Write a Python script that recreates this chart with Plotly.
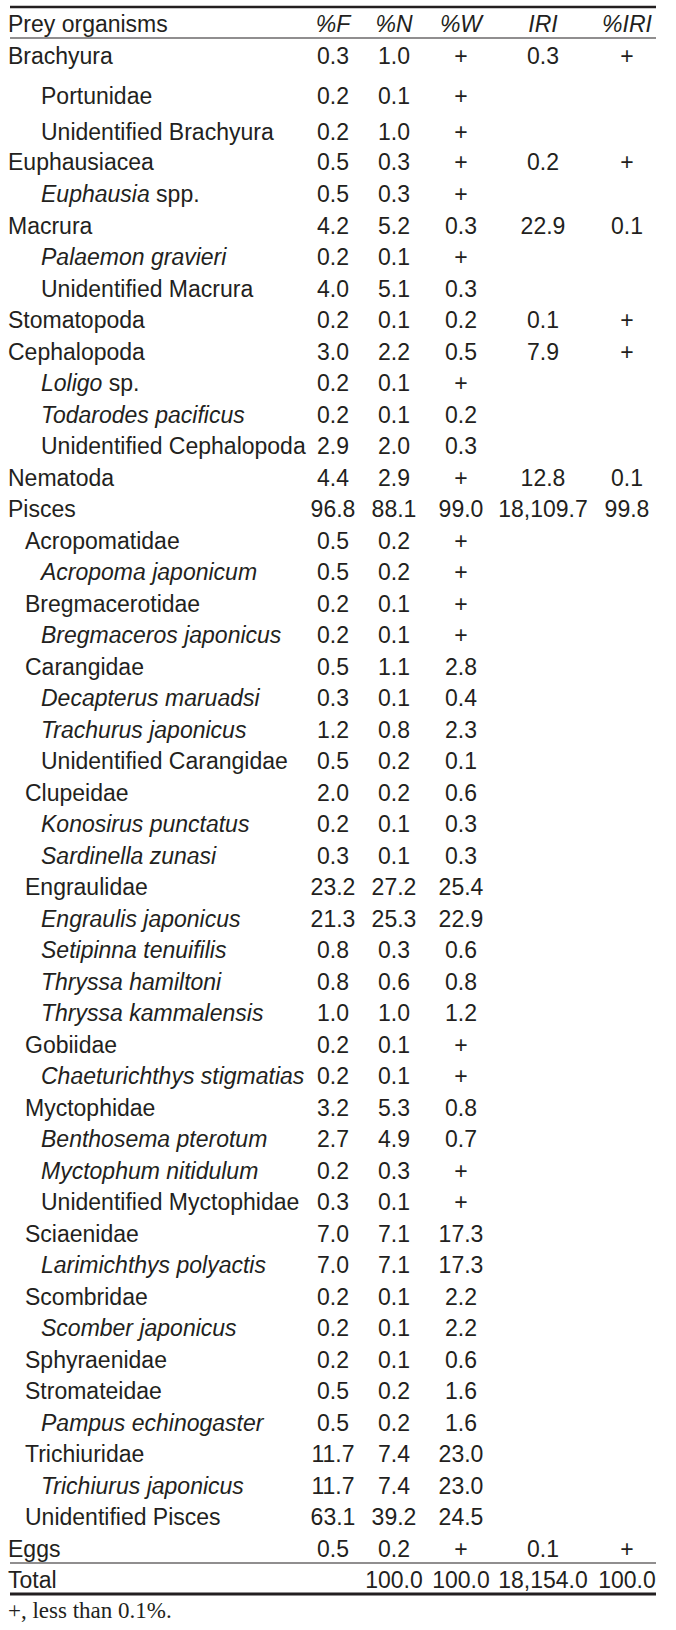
import plotly.graph_objects as go

# ---------------- data ----------------
header_label = "Prey organisms"
columns = ["<i>%F</i>", "<i>%N</i>", "<i>%W</i>", "<i>IRI</i>", "<i>%IRI</i>"]

prey = [
    "Brachyura", "Portunidae", "Unidentified Brachyura",
    "Euphausiacea", "<i>Euphausia</i> spp.",
    "Macrura", "<i>Palaemon gravieri</i>", "Unidentified Macrura",
    "Stomatopoda",
    "Cephalopoda", "<i>Loligo</i> sp.", "<i>Todarodes pacificus</i>", "Unidentified Cephalopoda",
    "Nematoda",
    "Pisces",
    "Acropomatidae", "<i>Acropoma japonicum</i>",
    "Bregmacerotidae", "<i>Bregmaceros japonicus</i>",
    "Carangidae", "<i>Decapterus maruadsi</i>", "<i>Trachurus japonicus</i>", "Unidentified Carangidae",
    "Clupeidae", "<i>Konosirus punctatus</i>", "<i>Sardinella zunasi</i>",
    "Engraulidae", "<i>Engraulis japonicus</i>", "<i>Setipinna tenuifilis</i>",
    "<i>Thryssa hamiltoni</i>", "<i>Thryssa kammalensis</i>",
    "Gobiidae", "<i>Chaeturichthys stigmatias</i>",
    "Myctophidae", "<i>Benthosema pterotum</i>", "<i>Myctophum nitidulum</i>", "Unidentified Myctophidae",
    "Sciaenidae", "<i>Larimichthys polyactis</i>",
    "Scombridae", "<i>Scomber japonicus</i>",
    "Sphyraenidae",
    "Stromateidae", "<i>Pampus echinogaster</i>",
    "Trichiuridae", "<i>Trichiurus japonicus</i>",
    "Unidentified Pisces",
    "Eggs",
    "Total",
]

level = [
    0, 2, 2,
    0, 2,
    0, 2, 2,
    0,
    0, 2, 2, 2,
    0,
    0,
    1, 2,
    1, 2,
    1, 2, 2, 2,
    1, 2, 2,
    1, 2, 2, 2, 2,
    1, 2,
    1, 2, 2, 2,
    1, 2,
    1, 2,
    1,
    1, 2,
    1, 2,
    1,
    0,
    0,
]

pct_F = [
    "0.3", "0.2", "0.2",
    "0.5", "0.5",
    "4.2", "0.2", "4.0",
    "0.2",
    "3.0", "0.2", "0.2", "2.9",
    "4.4",
    "96.8",
    "0.5", "0.5",
    "0.2", "0.2",
    "0.5", "0.3", "1.2", "0.5",
    "2.0", "0.2", "0.3",
    "23.2", "21.3", "0.8", "0.8", "1.0",
    "0.2", "0.2",
    "3.2", "2.7", "0.2", "0.3",
    "7.0", "7.0",
    "0.2", "0.2",
    "0.2",
    "0.5", "0.5",
    "11.7", "11.7",
    "63.1",
    "0.5",
    "",
]

pct_N = [
    "1.0", "0.1", "1.0",
    "0.3", "0.3",
    "5.2", "0.1", "5.1",
    "0.1",
    "2.2", "0.1", "0.1", "2.0",
    "2.9",
    "88.1",
    "0.2", "0.2",
    "0.1", "0.1",
    "1.1", "0.1", "0.8", "0.2",
    "0.2", "0.1", "0.1",
    "27.2", "25.3", "0.3", "0.6", "1.0",
    "0.1", "0.1",
    "5.3", "4.9", "0.3", "0.1",
    "7.1", "7.1",
    "0.1", "0.1",
    "0.1",
    "0.2", "0.2",
    "7.4", "7.4",
    "39.2",
    "0.2",
    "100.0",
]

pct_W = [
    "+", "+", "+",
    "+", "+",
    "0.3", "+", "0.3",
    "0.2",
    "0.5", "+", "0.2", "0.3",
    "+",
    "99.0",
    "+", "+",
    "+", "+",
    "2.8", "0.4", "2.3", "0.1",
    "0.6", "0.3", "0.3",
    "25.4", "22.9", "0.6", "0.8", "1.2",
    "+", "+",
    "0.8", "0.7", "+", "+",
    "17.3", "17.3",
    "2.2", "2.2",
    "0.6",
    "1.6", "1.6",
    "23.0", "23.0",
    "24.5",
    "+",
    "100.0",
]

iri = [
    "0.3", "", "",
    "0.2", "",
    "22.9", "", "",
    "0.1",
    "7.9", "", "", "",
    "12.8",
    "18,109.7",
    "", "", "", "", "", "", "", "", "", "", "", "", "", "", "", "",
    "", "", "", "", "", "", "", "", "", "", "", "", "", "", "", "",
    "0.1",
    "18,154.0",
]

pct_IRI = [
    "+", "", "",
    "+", "",
    "0.1", "", "",
    "+",
    "+", "", "", "",
    "0.1",
    "99.8",
    "", "", "", "", "", "", "", "", "", "", "", "", "", "", "", "",
    "", "", "", "", "", "", "", "", "", "", "", "", "", "", "", "",
    "+",
    "100.0",
]

footnote = "+, less than 0.1%."

# ---------------- layout / style ----------------
W, H = 676, 1630
FONT = "Liberation Sans, Arial, Helvetica, sans-serif"
SERIF = "Liberation Serif, Times New Roman, serif"
FS = 23
INK = "#231f20"

indent_x = {0: 8, 1: 25, 2: 41}
col_x = [333, 394, 461, 543, 627]
header_y = 26
first_row_y = 58
row_gap = [0, 40, 36, 30, 32, 32] + [31.5] * (len(prey) - 6)

row_y = []
y = first_row_y
for g in row_gap:
    y += g
    row_y.append(y)

table_left, table_right = 10, 656

fig = go.Figure()

# header
fig.add_trace(go.Scatter(
    x=[indent_x[0]], y=[header_y], text=[header_label], mode="text",
    textposition="middle right", textfont=dict(family=FONT, size=FS, color=INK),
    hoverinfo="skip", showlegend=False))
fig.add_trace(go.Scatter(
    x=col_x, y=[header_y] * len(columns), text=columns, mode="text",
    textposition="middle center", textfont=dict(family=FONT, size=FS, color=INK),
    hoverinfo="skip", showlegend=False))

# row labels
fig.add_trace(go.Scatter(
    x=[indent_x[l] for l in level], y=row_y, text=prey, mode="text",
    textposition="middle right", textfont=dict(family=FONT, size=FS, color=INK),
    hoverinfo="skip", showlegend=False))

# value columns
for cx, vals in zip(col_x, [pct_F, pct_N, pct_W, iri, pct_IRI]):
    fig.add_trace(go.Scatter(
        x=[cx] * len(vals), y=row_y, text=vals, mode="text",
        textposition="middle center", textfont=dict(family=FONT, size=FS, color=INK),
        hoverinfo="skip", showlegend=False))

# footnote
fig.add_trace(go.Scatter(
    x=[indent_x[0]], y=[1612], text=[footnote], mode="text",
    textposition="middle right", textfont=dict(family=SERIF, size=FS, color=INK),
    hoverinfo="skip", showlegend=False))

# rules
rules = [(7, 2.6), (38, 1.2), (1563, 1.2), (1594, 2.8)]
for ry, lw in rules:
    fig.add_shape(type="line", xref="x", yref="y", x0=table_left, x1=table_right,
                  y0=ry, y1=ry, line=dict(color=INK, width=lw))

fig.update_layout(
    width=W, height=H, margin=dict(l=0, r=0, t=0, b=0),
    paper_bgcolor="white", plot_bgcolor="white",
    xaxis=dict(range=[0, W], visible=False, fixedrange=True),
    yaxis=dict(range=[H, 0], visible=False, fixedrange=True),
    showlegend=False,
)

fig.write_html("out.html", config={"displayModeBar": False, "staticPlot": True},
               post_script="document.body.style.margin='0';document.body.style.overflow='hidden';")
